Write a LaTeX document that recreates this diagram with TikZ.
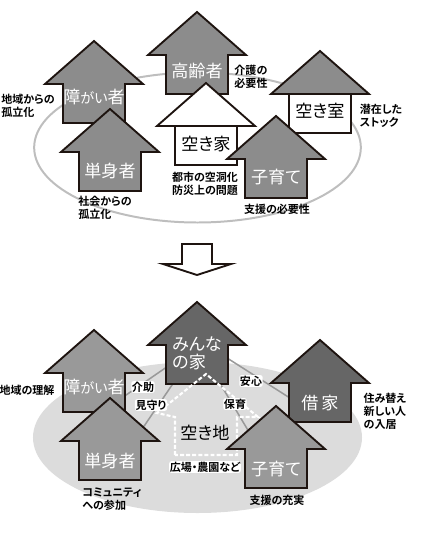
\documentclass[tikz,border=0pt]{standalone}
\usepackage{fontspec}
\setmainfont{Noto Sans CJK JP}[RawFeature=+palt,BoldFont={Noto Sans CJK JP Bold}]
\usetikzlibrary{backgrounds,shapes.geometric}
\definecolor{roofgray}{HTML}{8C8C8C}
\definecolor{darkgray}{HTML}{666666}
\definecolor{midgray}{HTML}{999999}
\definecolor{ringgray}{HTML}{BEBEBE}
\definecolor{fieldgray}{HTML}{DCDCDC}
\definecolor{outline}{HTML}{1E1410}
\newcommand{\smallkana}[1]{{\fontsize{12}{15}\selectfont #1}}
\tikzset{
  wall/.style={line width=1.6pt, draw=outline, line join=miter},
  hname/.style={minimum width=1.83cm, minimum height=1.2cm, inner sep=0pt, align=left, font=\fontsize{14.6}{15.5}\selectfont},
  note/.style={font=\bfseries\fontsize{9.4}{11}\selectfont, align=left, inner sep=0pt, text=black},
  halo/.style={note, fill=white, rounded corners=2pt, inner sep=0.6pt},
  link/.style={line width=1.3pt, draw=midgray},
  plot/.style={line width=1.8pt, draw=white, dash pattern=on 3.4pt off 1.8pt}
}
% arrow house: name, apex x, apex y, fill, text offset, text
\newcommand{\arrowhouse}[6]{
  \draw[wall, fill=#4] (#2,#3) -- ++(49,43) -- ++(-18,0) -- ++(0,39) -- ++(-62,0) -- ++(0,-39) -- ++(-18,0) -- cycle;
  \node[hname, text=white] (#1) at (#2,#3+#5) {#6};
}
% plain house: separate roof and body
\newcommand{\roofhouse}[6]{
  \draw[wall, fill=white] (#2-31,#3+43) rectangle (#2+31,#3+82);
  \draw[wall, fill=#4] (#2,#3) -- ++(49,43) -- ++(-98,0) -- cycle;
  \node[hname, text=black] (#1) at (#2,#3+#5) {#6};
}
\begin{document}
\begin{tikzpicture}[x=0.03cm, y=-0.03cm]
\useasboundingbox (0,0) rectangle (424,534);
% upper group
\node[ellipse, draw=ringgray, line width=1.7pt, minimum width=9.8cm, minimum height=4.5cm, inner sep=0pt] (ring) at (197.5,147.5) {};
\arrowhouse{elder}{197}{12}{roofgray}{59}{高齢者}
\arrowhouse{disabled}{94}{41}{roofgray}{56}{障\smallkana{がい}者}
\arrowhouse{single}{110}{109}{roofgray}{62}{単身者}
\roofhouse{vacant}{206}{83}{white}{61}{空き家}
\roofhouse{room}{320}{51}{roofgray}{60}{空き室}
\arrowhouse{child}{276}{116}{roofgray}{61}{子育て}
\node[note] (n1) at (251,77) {介護の\\必要性};
\node[note] (n2) at (28,106) {地域からの\\孤立化};
\node[note] (n3) at (381,116) {潜在した\\ストック};
\node[note] (n4) at (205,184) {都市の空洞化\\防災上の問題};
\node[note] (n5) at (277,209) {支援の必要性};
\node[note] (n6) at (105,208) {社会からの\\孤立化};
% down arrow
\draw[wall, fill=white] (182,244) -- (212,244) -- (212,264) -- (231,264) -- (197,275) -- (163,264) -- (182,264) -- cycle;
% lower group
\arrowhouse{home}{197}{302}{darkgray}{51}{みんな\\の家}
\arrowhouse{disabledb}{94}{330}{midgray}{57}{障\smallkana{がい}者}
\arrowhouse{singleb}{110}{398}{midgray}{63}{単身者}
\arrowhouse{rent}{320}{340}{darkgray}{63}{借\,家}
\draw[plot] (175,455) -- (175,417) -- (157,413) -- (206,374) -- (258,417) -- (237,417) -- (237,455) -- cycle;
\arrowhouse{childb}{276}{406}{midgray}{63}{子育て}
\node[font=\fontsize{14.6}{15.5}\selectfont] (lot) at (205,433) {空き地};
\node[note] (m1) at (27,390) {地域の理解};
\node[halo] (m2) at (143,387) {介助};
\node[halo] (m3) at (151,405) {見守り};
\node[halo] (m4) at (251,381) {安心};
\node[halo] (m5) at (235,404) {保育};
\node[halo] (m6) at (205,467) {広場・農園など};
\node[note] (m7) at (385,411) {住み替え\\新しい人\\の入居};
\node[note] (m8) at (277,500) {支援の充実};
\node[note] (m9) at (112,499) {コミュニティ\\への参加};
\begin{scope}[on background layer]
  \node[ellipse, fill=fieldgray, minimum width=9.87cm, minimum height=4.53cm, inner sep=0pt] (field) at (197.5,437.5) {};
  \draw[link] (home.205) -- (disabledb.-16);
  \draw[link] (home.230) -- (singleb.40);
  \draw[link] (home.310) -- (childb.130);
  \draw[link] (home.-10) -- (rent.170);
\end{scope}
\end{tikzpicture}
\end{document}
